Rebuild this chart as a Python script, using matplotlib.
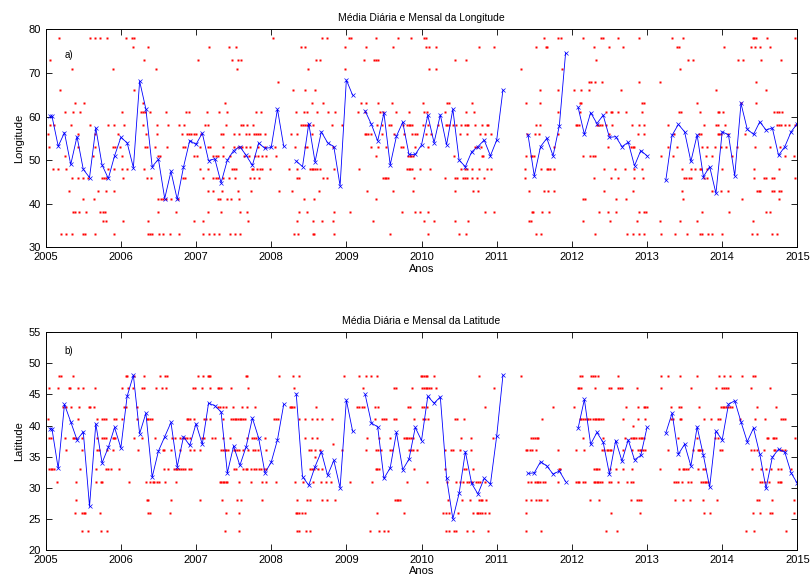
import numpy as np
import matplotlib.pyplot as plt

plt.rcParams['font.family'] = ['Liberation Sans', 'DejaVu Sans']

# monthly means, Jan 2005 .. Dec 2014 (nan = month without data)
nan = np.nan
lon_monthly = [
    60.1, 53.2, 56.3, 49.0, 55.4, 47.9, 46.0, 57.4, 48.9, 45.8, 51.0, 55.2,
    54.0, 48.3, 68.1, 61.7, 48.5, 50.2, 41.2, 47.4, 41.0, 48.4, 54.5, 53.6,
    56.2, 49.9, 50.3, 44.8, 50.0, 52.2, 53.1, 51.1, 48.8, 53.9, 52.7, 52.9,
    61.7, 53.2, nan, 49.8, 48.5, 58.4, 49.6, 56.5, 54.0, 53.1, 44.1, 68.4,
    64.9, nan, 61.3, 58.2, 54.4, 60.8, 48.9, 55.5, 58.7, 51.3, 51.3, 53.5,
    60.3, 54.0, 60.4, 53.5, 61.7, 50.0, 48.5, 51.9, 53.1, 54.6, 51.0, 54.6,
    66.1, nan, nan, nan, 55.8, 46.4, 53.1, 55.0, 51.0, 57.9, 74.6, nan,
    62.1, 55.9, 60.9, 58.4, 60.3, 55.2, 55.4, 53.1, 54.1, 48.7, 52.2, 51.0,
    nan, nan, 45.4, 55.7, 58.2, 56.5, 49.7, 55.8, 46.2, 48.5, 42.4, 56.5,
    55.8, 46.4, 63.0, 57.1, 55.9, 58.8, 56.9, 57.4, 51.1, 53.1, 56.5, 58.4,
]
lat_monthly = [
    39.5, 33.1, 43.4, 40.6, 37.7, 39.0, 27.0, 40.3, 34.0, 36.5, 39.7, 36.4,
    44.7, 48.1, 38.7, 42.0, 31.7, 35.9, 38.2, 40.5, 33.4, 38.2, 36.8, 40.3,
    37.0, 43.6, 43.2, 42.2, 32.4, 36.7, 33.6, 36.6, 41.2, 38.0, 32.4, 34.1,
    37.7, 43.4, nan, 45.1, 31.8, 30.4, 33.4, 35.8, 32.0, 34.4, 30.0, 44.1,
    39.1, nan, 45.0, 40.4, 39.8, 31.5, 33.2, 38.9, 32.9, 34.6, 39.7, 37.6,
    44.7, 43.6, 44.6, 31.6, 25.0, 29.1, 35.8, 30.7, 29.0, 31.5, 30.6, 38.3,
    48.1, nan, nan, nan, 32.3, 32.4, 34.2, 33.5, 32.2, 32.7, 31.0, nan,
    39.6, 44.2, 37.0, 38.9, 37.3, 32.2, 37.6, 34.3, 37.7, 34.5, 35.2, 39.7,
    nan, nan, 38.8, 42.0, 35.4, 37.0, 33.5, 39.8, 35.2, 30.1, 39.1, 37.7,
    43.4, 44.0, 40.6, 37.4, 39.6, 35.4, 29.9, 34.9, 36.2, 35.7, 32.4, 30.7,
]
first_day = 21  # day of the first observation in Jan 2005

# daily values: value -> days counted from 1 Jan 2005
lon_daily = {
    78: [65, 214, 240, 266, 297, 390, 419, 429, 1103, 1342, 1366, 1475, 1483, 1605, 1711, 1777,
         1838, 1846, 2419, 2487, 2504, 2613, 2696, 2706, 2783, 2884, 3045, 3099, 3435, 3444,
         3451, 3507, 3639],
    76: [423, 499, 796, 890, 924, 1243, 1261, 1454, 1555, 1690, 1848, 1864, 1898, 2107, 2177,
         2384, 2429, 2435, 2662, 2737, 2806, 3069, 3077, 3298, 3425, 3448, 3469, 3521],
    73: [20, 478, 740, 903, 934, 949, 1313, 1334, 1546, 1595, 1607, 1615, 1991, 2042, 2675,
         3123, 3143, 3363, 3387, 3474, 3572],
    71: [130, 326, 535, 931, 1277, 1454, 1862, 1898, 2311, 2509, 3081],
    68: [1130, 2641, 2649, 2669, 2705, 2884, 2987, 3453],
    66: [68, 430, 1202, 1261, 1308, 2401, 2487, 2565, 2602, 2638, 2797, 3257, 3499],
    63: [143, 185, 473, 869, 1293, 1347, 1533, 1556, 1616, 1685, 1831, 1952, 1958, 2073, 2336,
         2401, 2594, 2602, 2899, 2907, 3164, 3379, 3453],
    61: [94, 133, 165, 372, 463, 473, 482, 508, 586, 680, 698, 784, 843, 879, 1022, 1045, 1215,
         1256, 1271, 1316, 1371, 1406, 1517, 1551, 1623, 1639, 1703, 1767, 1836, 1851, 1939,
         2042, 2083, 2487, 2597, 2724, 2745, 2752, 2783, 2822, 2897, 3079, 3086, 3177, 3267,
         3273, 3290, 3538, 3554, 3562, 3577],
    58: [23, 39, 122, 214, 305, 331, 382, 473, 539, 594, 649, 673, 775, 791, 874, 947, 959, 980,
         1008, 1243, 1251, 1261, 1271, 1279, 1298, 1392, 1441, 1608, 1636, 1667, 1679, 1734,
         1755, 1764, 1772, 1780, 1835, 1857, 1908, 1944, 1952, 1960, 1977, 1996, 2018, 2037,
         2045, 2053, 2086, 2118, 2143, 2151, 2384, 2401, 2576, 2584, 2592, 2677, 2685, 2693,
         2701, 2721, 2750, 2847, 2884, 2909, 3023, 3200, 3257, 3265, 3303, 3554, 3562, 3575,
         3590, 3614, 3639],
    56: [11, 159, 242, 352, 486, 540, 662, 688, 698, 706, 720, 728, 755, 850, 861, 915, 938, 975,
         988, 1012, 1021, 1032, 1042, 1065, 1190, 1223, 1292, 1550, 1558, 1566, 1582, 1634,
         1692, 1739, 1780, 1796, 1806, 1848, 1872, 2013, 2045, 2110, 2135, 2162, 2340, 2380,
         2397, 2491, 2739, 2876, 2905, 3055, 3175, 3182, 3267, 3273, 3281, 3316, 3400],
    53: [18, 157, 242, 325, 339, 359, 483, 491, 532, 591, 668, 678, 750, 788, 799, 863, 915, 933,
         946, 955, 972, 994, 1030, 1068, 1112, 1213, 1261, 1271, 1398, 1582, 1616, 1656, 1726,
         1734, 1796, 1857, 2088, 2096, 2117, 2471, 2731, 2844, 2852, 2860, 3023, 3069, 3187,
         3215, 3251, 3280, 3308, 3361, 3446, 3518, 3569],
    51: [96, 229, 373, 548, 556, 719, 737, 812, 827, 838, 861, 897, 965, 986, 1017, 1034, 1051,
         1072, 1119, 1603, 1762, 1768, 1775, 1783, 1983, 2120, 2125, 2332, 2357, 2365, 2373,
         2610, 2644, 2661, 2669, 2990, 3050, 3208, 3236, 3337, 3590, 3637],
    48: [36, 59, 99, 303, 333, 372, 395, 477, 748, 788, 903, 913, 923, 1001, 1009, 1027, 1043,
         1051, 1090, 1181, 1223, 1284, 1292, 1300, 1308, 1316, 1334, 1400, 1522, 1755, 1764,
         1772, 1780, 1821, 1869, 2016, 2037, 2045, 2070, 2107, 2146, 2162, 2331, 2406, 2435,
         2443, 2452, 2468, 2713, 2766, 2815, 2860, 2897, 3094, 3134, 3157, 3177, 3185, 3215,
         3286, 3440, 3561],
    46: [130, 159, 183, 204, 274, 284, 292, 375, 491, 514, 667, 675, 763, 812, 830, 838, 863,
         889, 921, 993, 1014, 1038, 1219, 1232, 1346, 1367, 1641, 1649, 1656, 1664, 1788, 1940,
         1991, 1998, 2029, 2039, 2047, 2073, 2096, 2131, 2329, 2665, 2747, 2779, 2858, 2902,
         3102, 3110, 3126, 3134, 3198, 3215, 3444, 3492, 3500, 3531, 3539, 3639],
    43: [114, 253, 295, 333, 788, 814, 858, 936, 996, 1132, 1199, 1329, 1559, 1689, 1783, 1988,
         2078, 2102, 2347, 2419, 2439, 2468, 2713, 2855, 3094, 3236, 3280, 3317, 3458, 3466,
         3473, 3531, 3539, 3562, 3572],
    41: [181, 237, 545, 560, 571, 586, 608, 641, 838, 846, 879, 902, 941, 1256, 1303, 1603,
         2613, 2622, 2771, 2820, 3099, 3384, 3561],
    38: [135, 143, 163, 194, 266, 277, 289, 545, 631, 791, 854, 944, 978, 1232, 1269, 1400, 1478,
         1729, 1793, 1821, 1857, 2136, 2177, 2362, 2370, 2414, 2447, 2690, 2734, 2771, 2881,
         2907, 2915, 3190, 3322, 3502, 3521],
    36: [277, 294, 375, 496, 719, 763, 981, 1223, 1298, 1342, 1395, 1589, 1836, 1887, 1988, 2053,
         2350, 2358, 2610, 2740, 2873, 2985, 3082, 3167, 3435],
    33: [75, 99, 130, 181, 191, 240, 331, 499, 508, 517, 550, 568, 604, 650, 762, 793, 817, 841,
         898, 918, 946, 1207, 1227, 1297, 1305, 1400, 1672, 1859, 2008, 2042, 2384, 2406, 2670,
         2823, 2855, 2881, 2909, 2990, 3056, 3118, 3181, 3189, 3218, 3236, 3286, 3431, 3455,
         3528, 3552],
}

lat_daily = {
    48: [67, 73, 135, 388, 396, 427, 480, 556, 582, 591, 742, 765, 787, 793, 800, 974, 980, 1132,
         1202, 1230, 1448, 1522, 1556, 1583, 1608, 1822, 1830, 1838, 1846, 1854, 1887, 2107,
         2311, 2595, 2608, 2649, 2659, 2670, 2682, 2779, 2992, 3022, 3083, 3163, 3271, 3298,
         3324, 3383, 3438, 3449],
    46: [18, 62, 112, 119, 159, 181, 242, 373, 399, 426, 470, 480, 538, 565, 584, 718, 726, 761,
         798, 835, 844, 852, 899, 984, 1206, 1541, 1693, 1703, 1778, 1830, 1838, 1846, 1854,
         1862, 1871, 1898, 2179, 2586, 2592, 2599, 2667, 2735, 2747, 2783, 2792, 2800, 2871,
         2988, 3136, 3258, 3287, 3295, 3306, 3314, 3429, 3519],
    43: [86, 99, 125, 162, 209, 216, 237, 380, 388, 443, 835, 845, 861, 874, 909, 954, 979, 1015,
         1186, 1193, 1199, 1206, 1313, 1515, 1523, 1538, 1546, 1600, 1616, 1760, 1768, 1830,
         1838, 1854, 2135, 2466, 2566, 2818, 2879, 2905, 2913, 2920, 3039, 3079, 3088, 3175,
         3282, 3290, 3298, 3306, 3314, 3326, 3336, 3455, 3550],
    41: [11, 159, 248, 274, 284, 294, 334, 343, 370, 443, 491, 499, 508, 516, 687, 693, 701, 722,
         767, 780, 800, 860, 901, 910, 918, 927, 935, 943, 951, 961, 967, 1111, 1121, 1129,
         1230, 1260, 1296, 1319, 1342, 1391, 1601, 1634, 1644, 1656, 1692, 1701, 1788, 1833,
         1841, 1858, 1987, 1997, 2032, 2412, 2597, 2603, 2612, 2620, 2628, 2636, 2646, 2659,
         2667, 2675, 2683, 2691, 2699, 2709, 2805, 2878, 2910, 3039, 3049, 3081, 3089, 3201,
         3235, 3267, 3279, 3375, 3447, 3493, 3572, 3584, 3593],
    40: [2855],
    38: [18, 24, 96, 132, 140, 147, 175, 248, 274, 284, 294, 325, 333, 339, 430, 470, 532, 612,
         628, 654, 665, 677, 687, 701, 759, 770, 808, 821, 860, 897, 980, 1003, 1011, 1021,
         1066, 1259, 1296, 1317, 1561, 1622, 1672, 1742, 1750, 1758, 1766, 1776, 1784, 2016,
         2065, 2174, 2357, 2367, 2377, 2386, 2394, 2610, 2709, 2817, 2843, 2852, 2860, 2868,
         2884, 2892, 2899, 2907, 3071, 3163, 3253, 3266, 3504, 3512, 3533, 3541, 3551, 3639],
    37: [1395],
    36: [101, 178, 251, 259, 299, 328, 448, 571, 576, 609, 652, 701, 719, 748, 852, 860, 870, 878,
         888, 914, 922, 931, 940, 959, 985, 1008, 1016, 1034, 1069, 1278, 1288, 1308, 1332,
         1442, 1557, 1603, 1616, 1631, 1672, 1682, 1763, 1773, 1783, 1802, 1941, 1971, 1980,
         2013, 2068, 2333, 2341, 2355, 2364, 2383, 2487, 2577, 2616, 2703, 2711, 2727, 2734,
         2740, 2747, 2805, 2847, 2879, 2886, 2894, 2902, 2910, 3022, 3144, 3168, 3175, 3181,
         3189, 3277, 3284, 3425, 3442, 3457, 3488, 3537, 3545, 3566, 3579, 3593],
    35: [1309],
    33: [15, 24, 33, 42, 167, 243, 295, 305, 315, 354, 576, 595, 622, 631, 639, 649, 657, 667,
         677, 696, 705, 917, 923, 961, 972, 980, 997, 1010, 1023, 1036, 1046, 1059, 1069, 1285,
         1295, 1303, 1321, 1344, 1605, 1611, 1619, 1789, 1941, 2032, 2042, 2075, 2492, 2500,
         2664, 2672, 2680, 2688, 2742, 2770, 2807, 2850, 2987, 3075, 3096, 3104, 3112, 3120,
         3168, 3196, 3204, 3432, 3476, 3501, 3525, 3559, 3571, 3621],
    31: [55, 146, 246, 268, 276, 403, 486, 509, 521, 527, 543, 550, 578, 635, 847, 853, 860, 868,
         876, 883, 937, 998, 1051, 1070, 1118, 1212, 1252, 1298, 1339, 1362, 1386, 1481, 1585,
         1755, 1854, 1951, 1995, 2014, 2027, 2049, 2058, 2071, 2089, 2099, 2109, 2137, 2346,
         2360, 2377, 2386, 2394, 2403, 2417, 2427, 2487, 2579, 2586, 2592, 2613, 2621, 2662,
         2670, 2678, 2685, 2693, 2701, 2735, 2747, 2783, 2825, 2845, 2855, 3055, 3065, 3073,
         3092, 3122, 3135, 3184, 3194, 3202, 3210, 3218, 3471, 3480, 3497, 3515, 3556, 3566,
         3574],
    28: [145, 491, 499, 607, 749, 855, 930, 949, 1049, 1222, 1269, 1283, 1342, 1367, 1408, 1695,
         1705, 1714, 1722, 1956, 2021, 2063, 2106, 2114, 2122, 2141, 2336, 2359, 2383, 2396,
         2409, 2438, 2643, 2690, 2843, 2874, 2884, 2891, 3058, 3097, 3132, 3192, 3264, 3458,
         3467, 3528, 3636],
    26: [142, 175, 185, 193, 264, 496, 509, 605, 874, 940, 1214, 1222, 1230, 1244, 1259, 1609,
         1742, 1929, 1944, 1959, 2003, 2078, 2096, 2102, 2112, 2122, 2137, 2155, 2336, 2747,
         2886, 3199, 3227, 3437, 3470, 3520, 3528, 3636],
    23: [176, 204, 269, 299, 871, 937, 1222, 1233, 1267, 1283, 1575, 1622, 1644, 1662, 1946,
         1959, 1983, 1995, 2049, 2078, 2150, 2333, 2407, 2722, 2774, 3401, 3441, 3598],
}

years = list(range(2005, 2016))


def to_year(days):
    return 2005 + np.asarray(days, dtype=float) / 365.25


def draw_panel(ax, daily, monthly, title, ylabel, ylim, yticks, tag, tag_y):
    for value, days in daily.items():
        ax.plot(to_year(days), np.full(len(days), value), ls='none', marker='s',
                ms=2.0, mfc='#ff0000', mec='none')
    monthly = np.asarray(monthly, dtype=float)
    t = 2005 + (np.arange(len(monthly)) + 1) / 12.0
    t = np.concatenate([to_year([first_day]), t])
    v = np.concatenate([monthly[:1], monthly])
    ax.plot(t, v, '-x', color='blue', lw=0.6, ms=3.5, mew=0.5)

    ax.set_xlim(2005, 2015)
    ax.set_ylim(*ylim)
    ax.set_xticks(years)
    ax.set_yticks(yticks)
    ax.tick_params(direction='in', top=True, right=True, labelsize=8, length=4, width=0.6)
    for s in ax.spines.values():
        s.set_linewidth(0.7)
    ax.set_title(title, fontsize=7.5, pad=6)
    ax.set_xlabel('Anos', fontsize=8, labelpad=1)
    ax.set_ylabel(ylabel, fontsize=8, labelpad=3)
    ax.text(2005.25, tag_y, tag, fontsize=7, va='center')


fig = plt.figure(figsize=(8.1, 5.81), dpi=100)
ax1 = fig.add_axes([0.0564, 0.5743, 0.928, 0.3752])
ax2 = fig.add_axes([0.0564, 0.0534, 0.928, 0.3747])

draw_panel(ax1, lon_daily, lon_monthly, 'Média Diária e Mensal da Longitude', 'Longitude',
           (30, 80), range(30, 81, 10), 'a)', 74)
draw_panel(ax2, lat_daily, lat_monthly, 'Média Diária e Mensal da Latitude', 'Latitude',
           (20, 55), range(20, 56, 5), 'b)', 52)

fig.savefig('out.png', dpi=100)
